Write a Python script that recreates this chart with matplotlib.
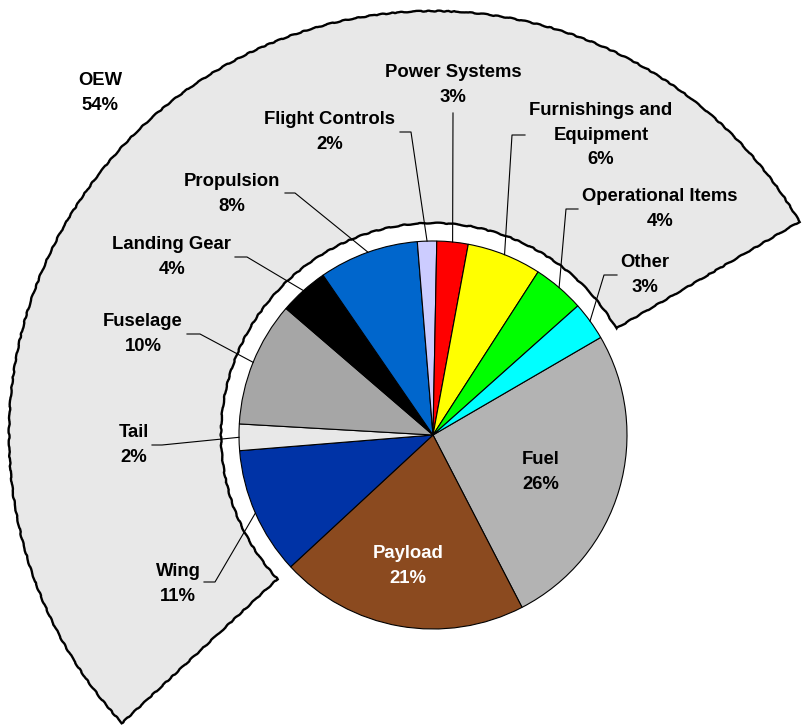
import numpy as np
import matplotlib
matplotlib.use("Agg")
import matplotlib.pyplot as plt
from matplotlib.patches import Wedge

# weight breakdown (percent of gross weight), clockwise from the Fuel slice
names = ["Fuel", "Payload", "Wing", "Tail", "Fuselage", "Landing Gear",
         "Propulsion", "Flight Controls", "Power Systems",
         "Furnishings and\nEquipment", "Operational Items", "Other"]
shares = [25.8, 20.7, 10.6, 2.2, 10.4, 4.1, 8.3, 1.6, 2.6, 6.2, 4.3, 3.2]
pct_text = ["26%", "21%", "11%", "2%", "10%", "4%", "8%", "2%", "3%", "6%", "4%", "3%"]
colors = ["#b3b3b3", "#8b4a1f", "#0033a6", "#e8e8e8", "#a6a6a6", "#000000",
          "#0066cc", "#ccccff", "#ff0000", "#ffff00", "#00ff00", "#00ffff"]
oew_label = "OEW\n54%"
n_outside = 2   # Fuel and Payload are not part of OEW

W, H = 803, 725
fig = plt.figure(figsize=(W / 100, H / 100), dpi=100)
ax = fig.add_axes([0, 0, 1, 1])

cx, cy = 433, H - 435
R = 194
start = 30.2

# grey OEW band behind the pie
oew_span = sum(shares[n_outside:]) / sum(shares) * 360
ring = Wedge((cx, cy), 424, start, start + oew_span, width=212,
             facecolor="#e8e8e8", edgecolor="black", lw=1.7, zorder=1)
ring.set_sketch_params(scale=0.45, length=18, randomness=4)
ax.add_patch(ring)

wedges, _ = ax.pie(shares, colors=colors, startangle=start, counterclock=False,
                   center=(cx, cy), radius=R,
                   wedgeprops=dict(edgecolor="black", linewidth=0.8))
for w in wedges:
    w.set_zorder(3)

# pie() resets the limits, so set the pixel frame afterwards
ax.set_xlim(0, W)
ax.set_ylim(0, H)
ax.set_aspect("equal")
ax.axis("off")

font = dict(family="Liberation Sans", fontweight="bold", fontsize=13.3,
            ha="center", va="center", linespacing=1.6)

# label text centre and the start of the leader (horizontal stub end)
label_pos = {
    "Flight Controls": ((330, 132), (400, 132), (411, 132)),
    "Power Systems": ((453, 85), None, (453, 113)),
    "Furnishings and\nEquipment": ((601, 135), (525, 135), (512, 135)),
    "Operational Items": ((660, 209), (578, 209), (566, 209)),
    "Other": ((645, 275), (617, 275), (604, 275)),
    "Propulsion": ((232, 194), (285, 193), (295, 193)),
    "Landing Gear": ((172, 257), (235, 257), (247, 257)),
    "Fuselage": ((143, 334), (187, 334), (200, 334)),
    "Tail": ((134, 445), (152, 445), (162, 445)),
    "Wing": ((178, 584), (204, 582), (215, 582)),
}

for w, name, pct in zip(wedges, names, pct_text):
    mid = np.deg2rad((w.theta1 + w.theta2) / 2)
    if name == "Payload":
        ax.text(408, H - 566, name + "\n" + pct, color="white", zorder=5, **font)
        continue
    if name == "Fuel":
        ax.text(541, H - 472, name + "\n" + pct, color="black", zorder=5, **font)
        continue
    (tx, ty), p0, p1 = label_pos[name]
    ax.text(tx, H - ty, name + "\n" + pct, color="black", zorder=5, **font)
    ex, ey = cx + R * np.cos(mid), cy + R * np.sin(mid)
    xs, ys = [], []
    if p0 is not None:
        xs.append(p0[0]); ys.append(H - p0[1])
    xs += [p1[0], ex]
    ys += [H - p1[1], ey]
    ax.plot(xs, ys, color="black", lw=0.8, zorder=4)

ax.text(100, H - 93, oew_label, color="black", zorder=5, **font)

fig.savefig("out.png", dpi=100, facecolor="white")
